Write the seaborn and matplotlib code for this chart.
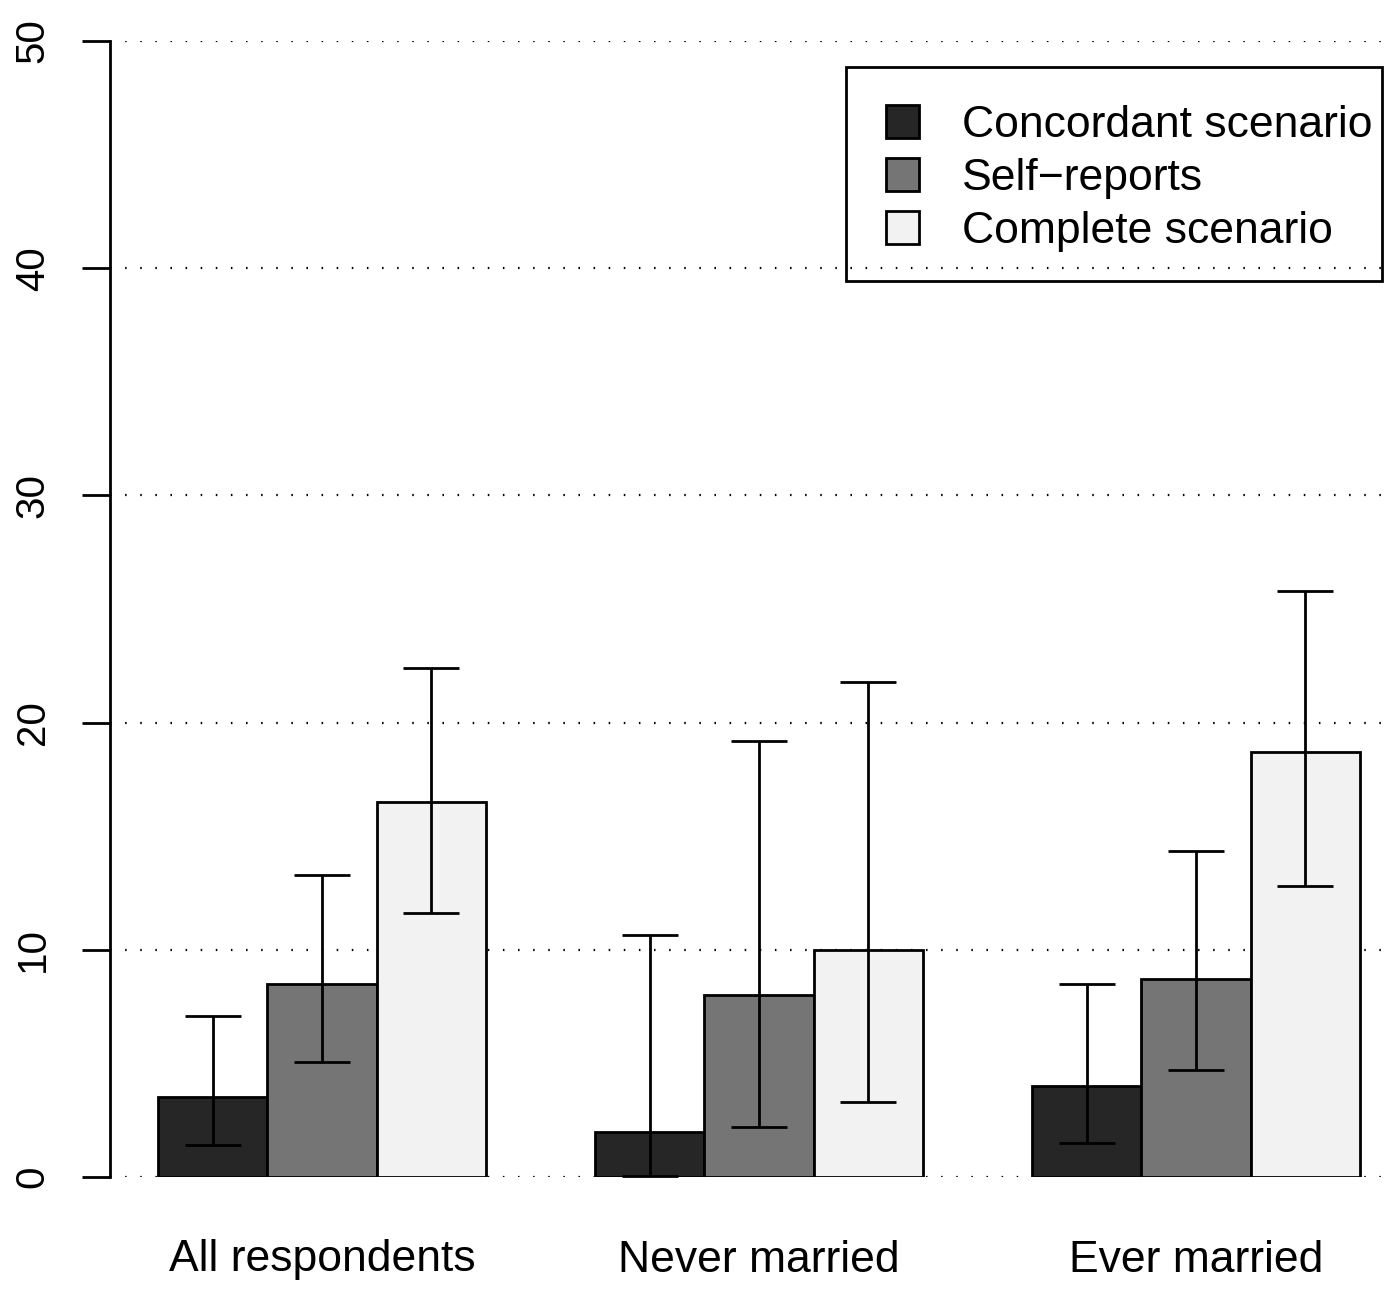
import numpy as np
import pandas as pd
import matplotlib
matplotlib.use("Agg")
import matplotlib.pyplot as plt
from matplotlib.patches import Rectangle
import seaborn as sns

### values ###
groups = ["All respondents", "Never married", "Ever married"]
scenarios = ["Concordant scenario", "Self\u2212reports", "Complete scenario"]
colors = ["#262626", "#757575", "#f2f2f2"]

## percentages, one list per scenario (order follows groups)
concordant = [3.5, 2.0, 4.0]
self_reports = [8.5, 8.0, 8.7]
complete = [16.5, 10.0, 18.7]

## confidence limits
concordant_lo = [1.4, 0.05, 1.5]
concordant_hi = [7.1, 10.65, 8.5]
self_lo = [5.05, 2.2, 4.7]
self_hi = [13.3, 19.2, 14.35]
complete_lo = [11.6, 3.3, 12.8]
complete_hi = [22.4, 21.8, 25.8]

yticks = [0, 10, 20, 30, 40, 50]

df = pd.DataFrame({
    "group": groups * 3,
    "scenario": np.repeat(scenarios, 3),
    "value": concordant + self_reports + complete,
    "lo": concordant_lo + self_lo + complete_lo,
    "hi": concordant_hi + self_hi + complete_hi,
})

sns.set_style("white")
plt.rcParams["font.family"] = ["Liberation Sans", "DejaVu Sans"]
plt.rcParams.update({
    "text.color": "black",
    "xtick.color": "black",
    "ytick.color": "black",
    "axes.labelcolor": "black",
})
fs = 32
fs_y = 29
W, H = 1400, 1290

fig = plt.figure(figsize=(14, 12.9), dpi=100)
ax = fig.add_axes([110/W, 1 - 1177/H, 1280/W, (1177 - 41)/H])

## dotted reference lines behind the bars
for yv in yticks:
    ax.axhline(yv, color="black", lw=1.6, linestyle=(0, (0.7, 6.1)), zorder=0)

sns.barplot(
    data=df, x="group", y="value", hue="scenario",
    order=groups, hue_order=scenarios, palette=colors,
    width=0.75, errorbar=None, edgecolor="black", linewidth=2,
    saturation=1, ax=ax, zorder=2,
)

## error bars on top of each bar
for cont, scen in zip(ax.containers, scenarios):
    sub = df[df["scenario"] == scen].set_index("group").loc[groups]
    xs = [p.get_x() + p.get_width() / 2 for p in cont.patches]
    ax.errorbar(
        xs, sub["value"],
        yerr=[sub["value"] - sub["lo"], sub["hi"] - sub["value"]],
        fmt="none", ecolor="black", elinewidth=2, capsize=20, capthick=2,
        zorder=3,
    )

ax.set_xlim(-0.485, 2.444)
ax.set_ylim(0, 50)
ax.set_yticks(yticks)
ax.set_xlabel("")
ax.set_ylabel("")
for side in ["top", "right", "bottom"]:
    ax.spines[side].set_visible(False)
ax.spines["left"].set_linewidth(2)
ax.spines["left"].set_color("black")
ax.tick_params(axis="y", left=True, length=20, width=2, pad=22,
               labelsize=fs_y, direction="out", color="black")
ax.tick_params(axis="x", bottom=False, length=0, pad=45, labelsize=fs)
plt.setp(ax.get_yticklabels(), rotation=90, va="center")

## legend entries without a frame, the box is drawn on its own (R style)
handles, labels = ax.get_legend_handles_labels()
leg = ax.legend(
    handles, labels, loc="upper left",
    bbox_to_anchor=(886/W, 1 - 105/H), bbox_transform=fig.transFigure,
    fontsize=fs, frameon=False, borderaxespad=0, borderpad=0,
    labelspacing=0.27, handlelength=0.75, handleheight=0.75,
    handletextpad=0.95,
)
for h in leg.legend_handles:
    h.set_linewidth(2)
fig.add_artist(Rectangle(
    (846/W, 1 - 281/H), (1382 - 846)/W, (281 - 67)/H,
    transform=fig.transFigure, fill=False, edgecolor="black", linewidth=2,
))

plt.savefig("out.png", dpi=100)
